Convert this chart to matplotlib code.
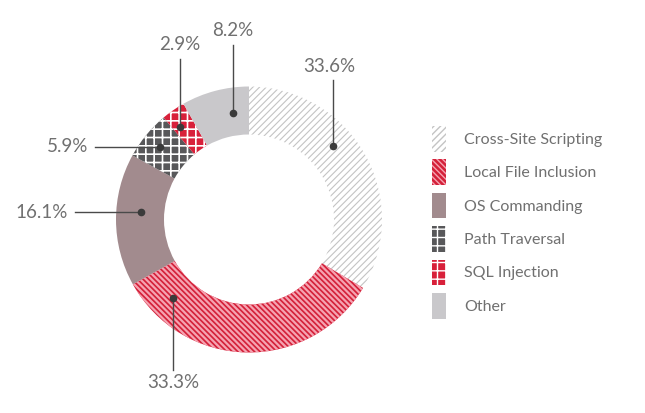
import matplotlib
matplotlib.use('Agg')
import matplotlib.pyplot as plt

# data
categories = ['Cross-Site Scripting', 'Local File Inclusion', 'OS Commanding',
              'Path Traversal', 'SQL Injection', 'Other']
shares = [33.6, 33.3, 16.1, 5.9, 2.9, 8.2]
labels = ['33.6%', '33.3%', '16.1%', '5.9%', '2.9%', '8.2%']

# styles per slice
faces = ['white', '#d42039', '#a28b8e', '#58585a', '#d8203a', '#c9c8cb']
hatch_cols = ['#c4c4c4', '#f5a3b1', '#a28b8e', 'white', 'white', '#c9c8cb']
hatches = ['/////', '\\' * 6, '', '++', '++', '']
hatch_lw = [0.8, 1.6, 1.0, 1.2, 1.2, 1.0]

W, H = 645, 413
plt.rcParams['font.family'] = ['Lato', 'DejaVu Sans']
plt.rcParams['hatch.linewidth'] = 1.0

fig = plt.figure(figsize=(W / 100, H / 100), dpi=100)
ax = fig.add_axes([0, 0, 1, 1])

def px(x, y):
    return x, H - y

wedges, _ = ax.pie(shares, startangle=90, counterclock=False,
                   center=px(249, 219.5), radius=133,
                   wedgeprops=dict(width=48, linewidth=0))
for w, fc, hc, h, hl in zip(wedges, faces, hatch_cols, hatches, hatch_lw):
    w.set_facecolor(fc)
    w.set_edgecolor(hc)
    w.set_hatch(h)
    if hasattr(w, 'set_hatch_linewidth'):
        w.set_hatch_linewidth(hl)
    else:
        w._hatch_linewidth = hl

ax.set_xlim(0, W)
ax.set_ylim(0, H)
ax.set_aspect('equal')
ax.axis('off')

# label layout: text pos, alignment, line start, dot
layout = {
    '33.6%': ((329, 67), 'center', (333, 80), (333, 146)),
    '33.3%': ((173, 382), 'center', (173, 370), (173, 298)),
    '16.1%': ((68, 212), 'right', (75, 212), (141, 212)),
    '5.9%': ((88, 147), 'right', (95, 147), (160, 147)),
    '2.9%': ((180, 45), 'center', (180, 59), (180, 127)),
    '8.2%': ((233, 31), 'center', (233, 45), (233, 113)),
}
for lab in labels:
    tpos, ha, p0, p1 = layout[lab]
    ax.text(*px(*tpos), lab, ha=ha, va='center', fontsize=13.5,
            color='#707070')
    ax.plot([px(*p0)[0], px(*p1)[0]], [px(*p0)[1], px(*p1)[1]],
            color='#4a4a4a', lw=1)
    ax.plot(*px(*p1), 'o', color='#3a3a3a', ms=4.5)

leg = ax.legend(wedges, categories, loc='upper left',
                bbox_to_anchor=(432 / W, 1 - 126 / H),
                bbox_transform=fig.transFigure, frameon=False,
                fontsize=11.5, handlelength=0.85, handleheight=2.1,
                handletextpad=1.15, labelspacing=0.48, borderpad=0,
                borderaxespad=0)
for t in leg.get_texts():
    t.set_color('#707070')

fig.savefig('out.png', dpi=100)
